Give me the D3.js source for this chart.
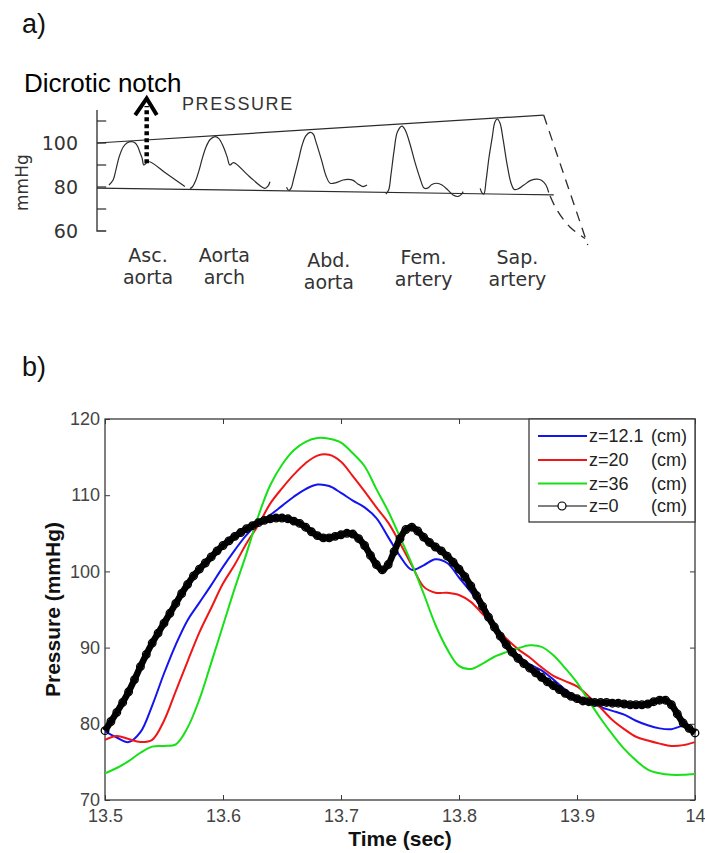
<!DOCTYPE html>
<html>
<head>
<meta charset="utf-8">
<script src="https://d3js.org/d3.v7.min.js"></script>
<style>
  body { margin: 0; background: #fff; }
  svg { display: block; }
</style>
</head>
<body>
<svg id="fig" width="705" height="853"></svg>
<script>
// ---------- Panel a: pressure pulse shape along the arterial tree ----------
// horizontal position is given as a percentage of the drawing strip, vertical as mmHg
const siteLinesTop = ["Asc.", "Aorta", "Abd.", "Fem.", "Sap."];
const siteLinesBottom = ["aorta", "arch", "aorta", "artery", "artery"];
const siteCentres = [11.1, 27.7, 50.4, 71.0, 91.4];

const pulseAscAorta = [[2.6,80.9],[3.5,83.2],[4.1,87.7],[4.8,93.6],[5.7,98.2],[6.5,100.0],[7.5,100.6],[8.3,100.0],[8.9,98.2],[9.3,95.9],[9.8,93.2],[10.2,90.0],[11.2,91.6],[15.0,86.2],[19.1,80.2]];
const pulseAortaArch = [[20.2,79.3],[20.7,80.0],[21.5,83.2],[22.2,87.7],[22.8,92.3],[23.7,98.2],[24.6,101.6],[25.7,102.9],[26.5,102.0],[27.4,98.6],[28.3,93.6],[28.9,90.0],[29.7,91.1],[33.0,85.0],[36.5,79.4],[37.2,80.5],[37.6,82.4]];
const pulseAbdAorta = [[41.2,79.9],[41.7,78.4],[42.2,79.5],[42.8,84.1],[43.8,92.3],[44.6,99.1],[45.4,103.2],[46.3,104.8],[47.0,104.1],[47.6,100.5],[48.8,92.3],[49.8,85.0],[50.7,81.7],[52.0,82.0],[53.5,83.2],[54.6,83.5],[55.7,83.0],[56.7,81.4],[57.8,80.2],[58.7,80.9]];
const pulseFemArtery = [[62.8,76.8],[63.4,78.6],[63.9,85.5],[64.6,96.8],[65.3,105.0],[66.3,107.7],[67.0,105.9],[68.1,99.1],[69.1,91.4],[70.2,84.1],[71.1,79.5],[71.9,79.5],[72.8,81.1],[73.9,81.7],[75.0,80.9],[76.3,78.6],[77.4,76.4],[78.5,75.7],[79.1,76.4],[79.6,77.9]];
const pulseSapArtery = [[83.3,79.4],[83.7,77.3],[84.1,76.8],[84.6,83.2],[85.2,93.2],[85.9,102.3],[86.5,109.5],[87.0,110.9],[87.6,109.1],[88.3,101.4],[89.1,90.9],[90.0,81.8],[90.7,78.9],[91.5,79.1],[92.8,80.9],[94.3,83.0],[95.7,83.6],[96.7,83.0],[97.6,80.9],[98.2,77.5]];

const systolicEnvelope = [[0, 100.0], [97.1, 112.7]];
const diastolicEnvelope = [[0, 79.5], [99.3, 76.4]];
const systolicFalloff = [[97.1, 112.7], [106.7, 53.6]];
const diastolicFalloff = [[98.5, 75.9], [100.0, 69.5], [102.8, 61.8], [106.1, 56.6]];
const notchArrow = [[10.8, 90.8], [10.8, 116.8]];
const notchArrowHead = [[8.3, 112.7], [10.8, 120.3], [13.0, 112.7]];

const mmHgTicks = [110, 100, 90, 80, 70];
const mmHgLabels = [100, 80, 60];

// ---------- Panel b: simulated pressure at several distances ----------
const timeTicks = [13.5, 13.6, 13.7, 13.8, 13.9, 14.0];
const timeTickLabels = ["13.5", "13.6", "13.7", "13.8", "13.9", "14"];
const pressureTicks = [70, 80, 90, 100, 110, 120];

// sampled every 10 ms from 13.50 s
const pressureZ12 = [79.0,78.2,77.6,78.9,82.4,86.6,90.4,93.6,95.9,98.2,100.6,102.8,104.8,106.3,107.4,108.6,109.8,110.8,111.4,111.2,110.3,109.3,108.4,107.0,104.5,102.0,100.2,100.8,101.6,101.1,99.2,97.3,95.0,92.6,90.6,89.0,87.8,87.0,85.8,84.5,83.5,82.9,82.2,81.7,81.2,80.4,79.8,79.4,79.3,79.7,79.2];
const pressureZ20 = [77.9,78.4,78.0,77.6,77.9,80.4,84.3,88.2,92.0,95.2,98.4,100.9,103.7,106.1,108.9,110.9,112.7,114.2,115.2,115.3,114.4,112.5,110.5,108.4,106.4,103.7,100.8,98.0,97.2,97.2,96.9,96.0,94.4,92.8,91.2,89.8,88.7,87.4,86.3,85.6,84.9,83.6,82.1,80.5,79.3,78.3,77.8,77.4,77.1,77.2,77.6];
const pressureZ36 = [73.5,74.2,75.1,76.2,77.0,77.1,77.3,79.5,83.2,88.0,92.9,97.8,102.4,107.3,111.3,114.0,115.9,117.0,117.5,117.4,116.9,115.5,113.8,110.8,107.9,104.5,101.0,97.1,93.0,89.8,87.6,87.2,87.9,88.8,89.4,89.9,90.3,90.1,89.0,87.3,85.4,83.0,80.7,78.6,76.7,75.2,74.0,73.5,73.3,73.3,73.4];
// sampled every 5 ms from 13.50 s
const pressureZ0 = [79.1,80.3,81.5,82.8,84.2,85.8,87.5,89.1,90.6,91.9,93.2,94.5,95.8,97.1,98.3,99.4,100.3,101.1,101.9,102.7,103.4,104.0,104.6,105.1,105.6,106.0,106.4,106.7,106.9,107.0,107.0,106.9,106.6,106.3,105.8,105.2,104.7,104.4,104.4,104.6,104.8,105.0,104.9,104.3,103.4,102.1,100.9,100.2,100.9,102.6,104.3,105.5,105.8,105.3,104.5,103.8,103.2,102.7,102.0,101.2,100.3,99.3,98.1,96.8,95.4,94.0,92.7,91.5,90.4,89.4,88.6,87.9,87.3,86.7,86.1,85.5,85.0,84.5,84.0,83.6,83.3,83.0,82.9,82.8,82.8,82.8,82.7,82.7,82.6,82.5,82.5,82.5,82.6,82.9,83.1,83.1,82.5,81.3,80.1,79.4,78.8];

const seriesNames = ["z=12.1", "z=20", "z=36", "z=0"];
const seriesUnit = "(cm)";

// ---------- drawing ----------
const svg = d3.select("#fig");
svg.append("rect").attr("width", 705).attr("height", 853).attr("fill", "#fff");

const sansA = "'DejaVu Sans', Verdana, sans-serif";
const sansB = "'Liberation Sans', Arial, Helvetica, sans-serif";

// panel labels
svg.append("text").attr("x", 22).attr("y", 33).text("a)")
  .attr("font-family", sansB).attr("font-size", 27).attr("fill", "#111");
svg.append("text").attr("x", 22).attr("y", 376).text("b)")
  .attr("font-family", sansB).attr("font-size", 27).attr("fill", "#111");

// ---- panel a ----
const xa = d3.scaleLinear().domain([0, 100]).range([97, 557]);
const ya = d3.scaleLinear().domain([60, 100]).range([231, 143]);
const ink = "#2b2b2b";
const ga = svg.append("g");
const lineA = d3.line().x(d => xa(d[0])).y(d => ya(d[1]));
const smoothA = d3.line().x(d => xa(d[0])).y(d => ya(d[1])).curve(d3.curveCatmullRom.alpha(0.5));

// axis spine with foot and ticks
ga.append("path")
  .attr("d", lineA([[0, 115], [0, 60], [2, 60]]))
  .attr("fill", "none").attr("stroke", ink).attr("stroke-width", 1.3);
ga.selectAll("line.tick").data(mmHgTicks).join("line")
  .attr("class", "tick")
  .attr("x1", xa(0)).attr("x2", xa(2))
  .attr("y1", d => ya(d)).attr("y2", d => ya(d))
  .attr("stroke", ink).attr("stroke-width", 1.2);
ga.selectAll("text.tl").data(mmHgLabels).join("text")
  .attr("class", "tl")
  .attr("x", xa(0) - 19).attr("y", d => ya(d)).attr("dy", "0.36em")
  .attr("text-anchor", "end")
  .attr("font-family", sansA).attr("font-size", 19).attr("fill", "#333")
  .text(d => d);
ga.append("text")
  .attr("transform", `translate(28,${ya(82)}) rotate(-90)`)
  .attr("text-anchor", "middle")
  .attr("font-family", sansA).attr("font-size", 17).attr("fill", "#333")
  .text("mmHg");

// envelopes
[systolicEnvelope, diastolicEnvelope].forEach(seg => {
  ga.append("path").attr("d", lineA(seg))
    .attr("fill", "none").attr("stroke", ink).attr("stroke-width", 1.2);
});
[systolicFalloff, diastolicFalloff].forEach(seg => {
  ga.append("path").attr("d", smoothA(seg))
    .attr("fill", "none").attr("stroke", ink).attr("stroke-width", 1.3)
    .attr("stroke-dasharray", "10,7");
});

// pulses
[pulseAscAorta, pulseAortaArch, pulseAbdAorta, pulseFemArtery, pulseSapArtery].forEach(p => {
  ga.append("path").attr("d", smoothA(p))
    .attr("fill", "none").attr("stroke", ink).attr("stroke-width", 1.2)
    .attr("stroke-linejoin", "round");
});

// site labels
const lineOneY = [262, 262, 267, 264, 264];
const lineTwoY = [284, 284, 289, 286, 286];
siteCentres.forEach((c, i) => {
  const t = ga.append("text").attr("text-anchor", "middle")
    .attr("font-family", sansA).attr("font-size", 19).attr("fill", "#333");
  t.append("tspan").attr("x", xa(c)).attr("y", lineOneY[i]).text(siteLinesTop[i]);
  t.append("tspan").attr("x", xa(c)).attr("y", lineTwoY[i]).text(siteLinesBottom[i]);
});

ga.append("text").attr("x", 182).attr("y", 110)
  .attr("font-family", sansB).attr("font-size", 18).attr("letter-spacing", 1.6)
  .attr("fill", "#333").text("PRESSURE");

// dicrotic notch marker
ga.append("path").attr("d", lineA(notchArrow))
  .attr("stroke", "#000").attr("stroke-width", 4.5).attr("stroke-dasharray", "4,3")
  .attr("fill", "none");
ga.append("path").attr("d", lineA(notchArrowHead))
  .attr("stroke", "#000").attr("stroke-width", 4).attr("fill", "none")
  .attr("stroke-linejoin", "miter");
ga.append("text").attr("x", 24).attr("y", 92)
  .attr("font-family", sansB).attr("font-size", 26).attr("fill", "#000")
  .text("Dicrotic notch");

// ---- panel b ----
const x = d3.scaleLinear().domain([13.5, 14.0]).range([105, 695]);
const y = d3.scaleLinear().domain([70, 120]).range([800, 419]);
const gb = svg.append("g");
const frameInk = "#3a3a3a";

const styleAxis = (g, labels) => {
  g.select(".domain").remove();
  g.selectAll(".tick line").attr("stroke", frameInk).attr("stroke-width", 1);
  g.selectAll(".tick text")
    .attr("font-family", sansB).attr("font-size", 18).attr("fill", "#444");
  if (!labels) g.selectAll(".tick text").remove();
};

gb.append("g").attr("transform", "translate(0,800)")
  .call(d3.axisBottom(x).tickValues(timeTicks).tickFormat((d, i) => timeTickLabels[i])
    .tickSizeInner(-5).tickSizeOuter(0).tickPadding(9))
  .call(g => styleAxis(g, true));
gb.append("g").attr("transform", "translate(0,419)")
  .call(d3.axisTop(x).tickValues(timeTicks).tickSizeInner(-5).tickSizeOuter(0))
  .call(g => styleAxis(g, false));
gb.append("g").attr("transform", "translate(105,0)")
  .call(d3.axisLeft(y).tickValues(pressureTicks).tickSizeInner(-5).tickSizeOuter(0).tickPadding(5))
  .call(g => styleAxis(g, true));
gb.append("g").attr("transform", "translate(695,0)")
  .call(d3.axisRight(y).tickValues(pressureTicks).tickSizeInner(-5).tickSizeOuter(0))
  .call(g => styleAxis(g, false));

gb.append("rect").attr("x", 105).attr("y", 419).attr("width", 590).attr("height", 381)
  .attr("fill", "none").attr("stroke", frameInk).attr("stroke-width", 1.3);

const lineB = d3.line().x(d => x(d[0])).y(d => y(d[1])).curve(d3.curveCatmullRom.alpha(0.5));
const coarse = v => v.map((p, i) => [13.5 + i * 0.01, p]);
const fine = v => v.map((p, i) => [13.5 + i * 0.005, p]);

const colours = ["#1414ee", "#ee1616", "#18e018"];
[pressureZ12, pressureZ20, pressureZ36].forEach((s, i) => {
  gb.append("path").attr("d", lineB(coarse(s)))
    .attr("fill", "none").attr("stroke", colours[i]).attr("stroke-width", 2);
});

const z0 = fine(pressureZ0);
gb.append("path").attr("d", lineB(z0))
  .attr("fill", "none").attr("stroke", "#000").attr("stroke-width", 6.5);
gb.selectAll("circle.z0").data(z0).join("circle")
  .attr("class", "z0")
  .attr("cx", d => x(d[0])).attr("cy", d => y(d[1])).attr("r", 3.8)
  .attr("fill", "none").attr("stroke", "#000").attr("stroke-width", 1.3);

// axis titles
gb.append("text").attr("x", 400).attr("y", 846).attr("text-anchor", "middle")
  .attr("font-family", sansB).attr("font-size", 21).attr("font-weight", "bold")
  .attr("fill", "#111").text("Time (sec)");
gb.append("text")
  .attr("transform", `translate(60,${y(95)}) rotate(-90)`)
  .attr("text-anchor", "middle")
  .attr("font-family", sansB).attr("font-size", 21).attr("font-weight", "bold")
  .attr("fill", "#111").text("Pressure (mmHg)");

// legend
const lg = gb.append("g");
lg.append("rect").attr("x", 529).attr("y", 419).attr("width", 166).attr("height", 103)
  .attr("fill", "#fff").attr("stroke", frameInk).attr("stroke-width", 1.3);
const rowY = [436, 460, 483.5, 506];
const legendColours = [...colours, "#000"];
seriesNames.forEach((name, i) => {
  lg.append("line").attr("x1", 538).attr("x2", 587).attr("y1", rowY[i]).attr("y2", rowY[i])
    .attr("stroke", legendColours[i]).attr("stroke-width", i === 3 ? 1.1 : 2);
  if (i === 3) {
    lg.append("circle").attr("cx", 562).attr("cy", rowY[i]).attr("r", 4)
      .attr("fill", "#fff").attr("stroke", "#000").attr("stroke-width", 1.2);
  }
  lg.append("text").attr("x", 589).attr("y", rowY[i]).attr("dy", "0.36em")
    .attr("font-family", sansB).attr("font-size", 18).attr("fill", "#222").text(name);
  lg.append("text").attr("x", 687).attr("y", rowY[i]).attr("dy", "0.36em")
    .attr("text-anchor", "end")
    .attr("font-family", sansB).attr("font-size", 18).attr("fill", "#222").text(seriesUnit);
});
</script>
</body>
</html>
